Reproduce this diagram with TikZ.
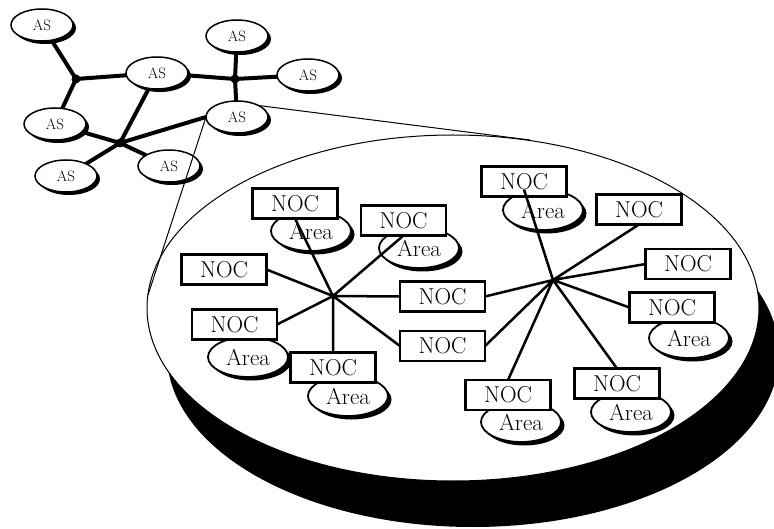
\documentclass[tikz,border=0pt]{standalone}
\usepackage{tikz}
\usetikzlibrary{shapes.geometric, shadows}

\tikzset{
  asnode/.style={ellipse, draw, line width=1.5pt, fill=white, minimum width=62pt,
    minimum height=32pt, inner sep=0pt, outer sep=0pt, font=\fontsize{15}{15}\selectfont,
    general shadow={fill=black, shadow xshift=3pt, shadow yshift=-3pt}},
  areanode/.style={ellipse, draw, line width=1.8pt, fill=white, minimum width=80pt,
    minimum height=40pt, inner sep=0pt, outer sep=0pt, font=\fontsize{23}{23}\selectfont,
    general shadow={fill=black, shadow xshift=3.5pt, shadow yshift=-3.5pt}},
  nocbox/.style={draw, line width=2.8pt, fill=white, minimum width=85pt,
    minimum height=30pt, inner sep=0pt, outer sep=0pt, font=\fontsize{23}{23}\selectfont},
  aslink/.style={line width=4pt},
  noclink/.style={line width=2.5pt},
  zoomline/.style={line width=1pt},
}

\begin{document}
\begin{tikzpicture}[x=1pt, y=-1pt]
  \clip (0,0) rectangle (774,529);

  % Autonomous systems
  \node[asnode] (as1) at (42,25)  {AS};
  \node[asnode] (as2) at (237,36) {AS};
  \node[asnode] (as3) at (157,73) {AS};
  \node[asnode] (as4) at (308,75) {AS};
  \node[asnode] (as5) at (55,124) {AS};
  \node[asnode] (as6) at (237,117) {AS};
  \node[asnode] (as7) at (66,176) {AS};
  \node[asnode] (as8) at (169,166) {AS};

  % Junctions between them
  \coordinate (j1) at (76,79);
  \coordinate (j2) at (235,79);
  \coordinate (j3) at (120,143);
  \draw[aslink] (j1) -- (as1) (j1) -- (as3) (j1) -- (as5);
  \draw[aslink] (j2) -- (as3) (j2) -- (as2) (j2) -- (as4) (j2) -- (as6);
  \draw[aslink] (j3) -- (as3) (j3) -- (as5) (j3) -- (as7) (j3) -- (as8) (j3) -- (as6.west);
  \foreach \j in {j1, j2, j3}
    \fill (\j) circle (4.5pt);

  % Enlarged AS (disc with shadow)
  \fill (473,354) ellipse (306 and 173);
  \draw[fill=white, line width=1pt] (453,308) ellipse (306 and 173);

  % Zoom into one AS
  \coordinate (zoomL) at (148,295);
  \coordinate (zoomR) at (530,140);
  \draw[zoomline] (as6.west) -- (zoomL);
  \draw[zoomline] (as6.28) -- (zoomR);

  % Areas
  \node[areanode] (a1)  at (311,231) {Area};
  \node[areanode] (a2)  at (419,248) {Area};
  \node[areanode] (a6)  at (248,357) {Area};
  \node[areanode] (a7)  at (348,396) {Area};
  \node[areanode] (a8)  at (543,210) {Area};
  \node[areanode] (a11) at (689,338) {Area};
  \node[areanode] (a12) at (631,412) {Area};
  \node[areanode] (a13) at (521,422) {Area};

  % NOCs
  \node[nocbox] (b1)  at (295,203.5) {NOC};
  \node[nocbox] (b2)  at (403.5,220.5) {NOC};
  \node[nocbox] (b3)  at (224,269.5) {NOC};
  \node[nocbox] (b4)  at (442.5,296.5) {NOC};
  \node[nocbox] (b5)  at (442.5,346) {NOC};
  \node[nocbox] (b6)  at (234.5,324.5) {NOC};
  \node[nocbox] (b7)  at (333,367.5) {NOC};
  \node[nocbox] (b8)  at (524,181.5) {NOC};
  \node[nocbox] (b9)  at (639,209.5) {NOC};
  \node[nocbox] (b10) at (688,264) {NOC};
  \node[nocbox] (b11) at (672,307.5) {NOC};
  \node[nocbox] (b12) at (617,383.5) {NOC};
  \node[nocbox] (b13) at (508,395) {NOC};

  % Star links
  \coordinate (h1) at (333,296);
  \coordinate (h2) at (553,280);
  \draw[noclink] (h1) -- (b1.south) (h1) -- (b2.south) (h1) -- (b3.east)
    (h1) -- (b4.west) (h1) -- (b5.west) (h1) -- (b6.east) (h1) -- (b7.north);
  \draw[noclink] (h2) -- (b4.east) (h2) -- (b5.east) (h2) -- ([yshift=-8pt]b8.center)
    (h2) -- (b9.south) (h2) -- (b10.west) (h2) -- (b11.west)
    (h2) -- (b12.north) (h2) -- (b13.north);
\end{tikzpicture}
\end{document}
